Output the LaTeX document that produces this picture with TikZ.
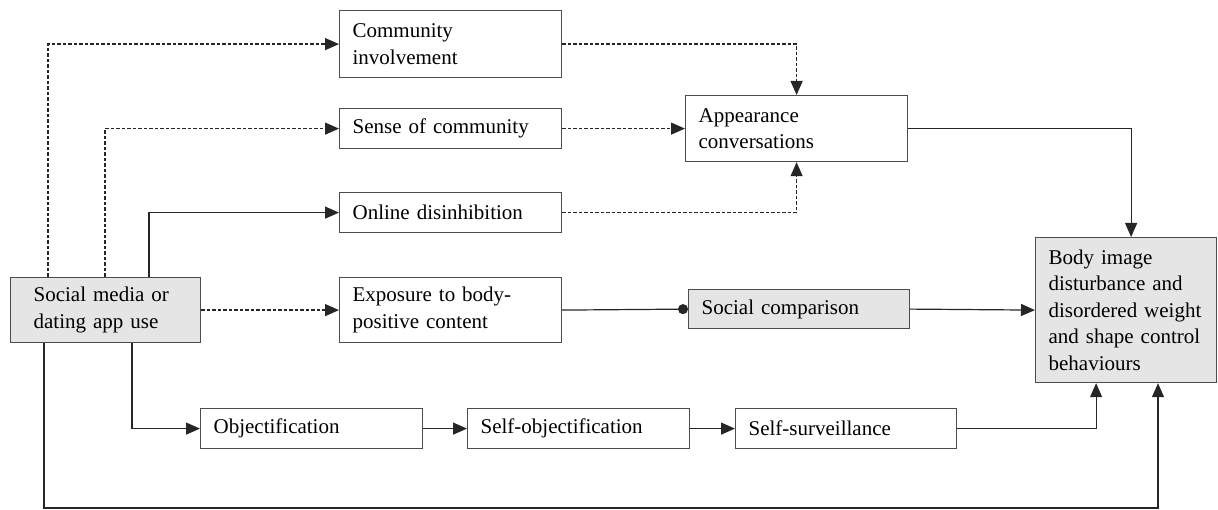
\documentclass[tikz,border=0pt]{standalone}
\usepackage{fontspec}
\setmainfont{Liberation Serif}
\usepackage{tikz}
\usetikzlibrary{arrows.meta}

\tikzset{
    box/.style={draw=black!70, line width=1.2pt, anchor=north west, align=left,
        inner xsep=13pt, inner ysep=0pt, font=\fontsize{21}{26.5}\selectfont},
    greybox/.style={box, fill=black!10},
    line/.style={draw=black!85, line width=1.2pt, -{Triangle[length=14pt,width=12pt]}},
    dline/.style={line, dash pattern=on 3.5pt off 2pt}
}

\begin{document}
\begin{tikzpicture}[x=1pt, y=-1pt]
    \useasboundingbox (0,0) rectangle (1218,510);

    % Boxes (positions in pixels from top left)
    \node[greybox, inner xsep=23pt, text width=144pt, minimum height=65pt] (social) at (10,277) {Social media or\\dating app use};
    \node[box, text width=196pt, minimum height=67pt] (community) at (339,10) {Community\\involvement};
    \node[box, text width=196pt, minimum height=40pt] (sense) at (339,108) {Sense of community};
    \node[box, text width=196pt, minimum height=40pt] (online) at (339,192) {Online disinhibition};
    \node[box, text width=196pt, minimum height=65pt] (exposure) at (339,277) {Exposure to body-\\positive content};
    \node[box, text width=196pt, minimum height=66pt] (appearance) at (685,95) {Appearance\\conversations};
    \node[greybox, text width=195pt, minimum height=39pt] (comparison) at (688,289) {Social comparison};
    \node[greybox, text width=155pt, minimum height=145pt] (body) at (1035,237) {Body image\\disturbance and\\disordered weight\\and shape control\\behaviours};
    \node[box, text width=196pt, minimum height=40pt] (objectif) at (200,408) {Objectification};
    \node[box, text width=196pt, minimum height=40pt] (selfobj) at (467,408) {Self-objectification};
    \node[box, text width=195pt, minimum height=40pt] (selfsurv) at (735,408) {Self-surveillance};

    \coordinate (floor) at (1158,508);

    % Paths from social media use
    \draw[dline] (social.north west) ++(38,0) |- (community.west);
    \draw[dline] (social.north west) ++(95,0) |- (sense.west);
    \draw[line] (social.north west) ++(139,0) |- (online.west);
    \draw[dline] (social.east) -- (exposure.west);
    \draw[line] (social.south west) ++(122,0) |- (objectif.west);
    \draw[line] ([xshift=34pt]social.south west) |- (floor) -- (floor |- body.south);

    % Community paths
    \draw[dline] (community.east) -| (appearance.north);
    \draw[dline] (sense.east) -- (appearance.west);
    \draw[dline] (online.east) -| (appearance.south);
    \draw[line] (appearance.east) -| ([xshift=5pt]body.north);

    % Body-positive content
    \draw[line, -{Circle[length=10pt]}] (exposure.east) -- (comparison.west);
    \draw[line] (comparison.east) -- (body.west);

    % Objectification chain
    \draw[line] (objectif.east) -- (selfobj.west);
    \draw[line] (selfobj.east) -- (selfsurv.west);
    \draw[line] (selfsurv.east) -| ([xshift=-30pt]body.south);
\end{tikzpicture}
\end{document}
